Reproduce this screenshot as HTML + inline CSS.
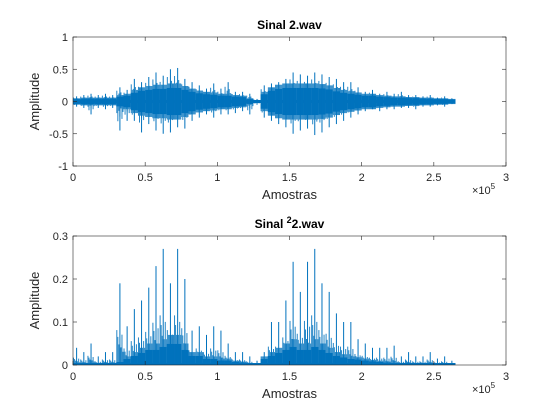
<!DOCTYPE html>
<html><head><meta charset="utf-8"><style>
html,body{margin:0;padding:0;background:#fff;}
svg{display:block;font-family:"Liberation Sans",Arial,sans-serif;}
</style></head><body>
<svg id="fig" width="560" height="420" viewBox="0 0 560 420" xmlns="http://www.w3.org/2000/svg"></svg>
<script>
const binStart = 0, binWidth = 0.05; // in 1e5 samples
const topPos = [0.08,0.1,0.12,0.1,0.12,0.1,0.22,0.18,0.35,0.3,0.38,0.45,0.4,0.5,0.52,0.35,0.3,0.25,0.2,0.28,0.2,0.3,0.15,0.15,0.12,0.04,0.25,0.28,0.3,0.35,0.45,0.42,0.4,0.45,0.42,0.38,0.35,0.3,0.3,0.22,0.15,0.18,0.12,0.15,0.12,0.15,0.1,0.1,0.08,0.1,0.06,0.08,0.05];
const topNeg = [0.08,0.1,0.2,0.1,0.12,0.1,0.45,0.3,0.3,0.48,0.35,0.45,0.5,0.48,0.4,0.42,0.3,0.25,0.2,0.25,0.2,0.2,0.18,0.15,0.2,0.05,0.25,0.3,0.35,0.4,0.5,0.45,0.42,0.52,0.48,0.4,0.35,0.3,0.25,0.2,0.15,0.12,0.15,0.12,0.12,0.1,0.1,0.12,0.08,0.08,0.06,0.08,0.04];
const topCore = [0.05,0.06,0.06,0.06,0.06,0.06,0.1,0.12,0.18,0.22,0.24,0.26,0.26,0.28,0.28,0.24,0.2,0.17,0.15,0.14,0.12,0.12,0.1,0.09,0.05,0.02,0.15,0.22,0.26,0.28,0.28,0.28,0.28,0.28,0.27,0.25,0.21,0.18,0.16,0.14,0.12,0.12,0.1,0.09,0.08,0.08,0.07,0.07,0.06,0.06,0.05,0.05,0.04];
const botSpike = [0.04,0.03,0.05,0.02,0.03,0.03,0.19,0.09,0.13,0.15,0.18,0.23,0.27,0.19,0.27,0.2,0.08,0.09,0.07,0.09,0.08,0.05,0.03,0.03,0.02,0.01,0.03,0.1,0.1,0.15,0.24,0.17,0.24,0.27,0.19,0.17,0.12,0.1,0.1,0.06,0.05,0.04,0.04,0.04,0.045,0.02,0.03,0.02,0.02,0.03,0.015,0.02,0.01];
const botCore = [0.005,0.005,0.005,0.005,0.005,0.005,0.01,0.02,0.03,0.04,0.05,0.05,0.06,0.07,0.07,0.05,0.03,0.03,0.02,0.02,0.015,0.015,0.01,0.008,0.004,0.002,0.02,0.03,0.04,0.05,0.06,0.05,0.05,0.06,0.05,0.04,0.03,0.025,0.02,0.018,0.015,0.012,0.01,0.008,0.006,0.005,0.005,0.004,0.003,0.003,0.002,0.002,0.002];
const xTicks = [0,0.5,1,1.5,2,2.5,3];
const xTickLabels = ["0","0.5","1","1.5","2","2.5","3"];
const topYTicks = [-1,-0.5,0,0.5,1];
const topYTickLabels = ["-1","-0.5","0","0.5","1"];
const botYTicks = [0,0.1,0.2,0.3];
const botYTickLabels = ["0","0.1","0.2","0.3"];
const spikeFracA = [0.95,0.45,0.7,0.35,0.8,0.55,0.4];
const spikeFracB = [0.5,0.85,0.4,0.65,0.3,0.75,0.45];

const NS="http://www.w3.org/2000/svg", svg=document.getElementById('fig');
function mk(tag,attrs,parent){const e=document.createElementNS(NS,tag);for(const k in attrs)e.setAttribute(k,attrs[k]);(parent||svg).appendChild(e);return e;}
const L=73,R=506,C='#0072BD',TC='#262626';
const xS=v=>L+(v/3)*(R-L);

function axes(top,bot,ymin,ymax,yt,ytl,title,name){
  const g=mk('g',{});
  
  
  const yS=v=>bot-(v-ymin)/(ymax-ymin)*(bot-top);
  const box=mk('rect',{x:L,y:top,width:R-L,height:bot-top,fill:'#fff',stroke:'none'},g);
  
  
  return {g,yS,top,bot,yt,ytl,title,name};
}
function finish(a,xlabel){
  const g=a.g,yS=a.yS;
  const fr=mk('rect',{x:L,y:a.top,width:R-L,height:a.bot-a.top,fill:'none',stroke:TC,'stroke-width':0.6},g);
  
  
  xTicks.forEach((t,i)=>{
    const x=xS(t);
    mk('line',{x1:x,x2:x,y1:a.bot,y2:a.bot-4,stroke:TC,'stroke-width':0.6},g);
    mk('line',{x1:x,x2:x,y1:a.top,y2:a.top+4,stroke:TC,'stroke-width':0.6},g);
    const tx=mk('text',{x:x,y:a.bot+15,'font-size':11,fill:TC,'text-anchor':'middle'},g);
    
    
    tx.textContent=xTickLabels[i];
  });
  a.yt.forEach((t,i)=>{
    const y=yS(t);
    mk('line',{x1:L,x2:L+4,y1:y,y2:y,stroke:TC,'stroke-width':0.6},g);
    mk('line',{x1:R,x2:R-4,y1:y,y2:y,stroke:TC,'stroke-width':0.6},g);
    const tx=mk('text',{x:L-5,y:y+4,'font-size':11,fill:TC,'text-anchor':'end'},g);
    
    
    tx.textContent=a.ytl[i];
  });
  const xl=mk('text',{x:(L+R)/2,y:a.bot+33,'font-size':13,fill:TC,'text-anchor':'middle'},g);
  
  
  xl.textContent=xlabel;
  const yl=mk('text',{x:0,y:0,'font-size':13,fill:TC,'text-anchor':'middle',transform:`translate(39,${(a.top+a.bot)/2}) rotate(-90)`},g);
  
  
  yl.textContent='Amplitude';
  const ex=mk('text',{x:R-34,y:a.bot+28,'font-size':11,fill:TC},g);
  
  
  ex.innerHTML='×10<tspan dy="-5" font-size="8">5</tspan>';
  const ti=mk('text',{x:(L+R)/2,y:a.top-8,'font-size':12,'font-weight':'bold',fill:'#000','text-anchor':'middle'},g);
  
  
  ti.innerHTML=a.title;
}

const n=topCore.length;
// top
const A=axes(37,166,-1,1,topYTicks,topYTickLabels,'Sinal 2.wav','top-axes');
const s1=mk('g',{stroke:C,fill:C,'stroke-width':1},A.g);


mk('line',{x1:xS(0),x2:xS(binStart+n*binWidth),y1:A.yS(0),y2:A.yS(0),'stroke-width':3},s1);
for(let i=0;i<n;i++){
  const x0=xS(binStart+i*binWidth),x1=xS(binStart+(i+1)*binWidth),w=x1-x0;
  const r=mk('rect',{x:x0,y:A.yS(topCore[i]*0.75),width:w,height:A.yS(-topCore[i]*0.75)-A.yS(topCore[i]*0.75),stroke:'none'},s1);
  
  
  const l=mk('line',{x1:x0+w/2,x2:x0+w/2,y1:A.yS(topPos[i]),y2:A.yS(-topNeg[i])},s1);
  
  
  for(let k=0;k<spikeFracA.length;k++){
    const xx=x0+(k+0.5)*w/spikeFracA.length;
    const up=Math.max(topCore[i],topPos[i]*spikeFracA[k]*0.8), dn=Math.max(topCore[i],topNeg[i]*spikeFracB[k]*0.8);
    const sp=mk('line',{x1:xx,x2:xx,y1:A.yS(up),y2:A.yS(-dn),opacity:0.85},s1);
    
    
  }
}
finish(A,'Amostras');

// bottom
const B=axes(236,365,0,0.3,botYTicks,botYTickLabels,'Sinal <tspan dy="-5" font-size="9">2</tspan><tspan dy="5">2.wav</tspan>','bottom-axes');
const s2=mk('g',{stroke:C,fill:C,'stroke-width':1},B.g);


mk('line',{x1:xS(0),x2:xS(binStart+n*binWidth),y1:B.yS(0)-1,y2:B.yS(0)-1,'stroke-width':2},s2);
for(let i=0;i<n;i++){
  const x0=xS(binStart+i*binWidth),x1=xS(binStart+(i+1)*binWidth),w=x1-x0;
  const r=mk('rect',{x:x0,y:B.yS(botCore[i]*0.7),width:w,height:B.yS(0)-B.yS(botCore[i]*0.7),stroke:'none'},s2);
  
  
  const l=mk('line',{x1:x0+w/2,x2:x0+w/2,y1:B.yS(botSpike[i]),y2:B.yS(0)},s2);
  
  
  for(let k=0;k<spikeFracA.length;k++){
    const xx=x0+(k+0.5)*w/spikeFracA.length;
    const h=Math.max(botCore[i],botSpike[i]*spikeFracA[k]*spikeFracB[k]*0.9);
    const sp=mk('line',{x1:xx,x2:xx,y1:B.yS(h),y2:B.yS(0),opacity:0.85},s2);
    
    
  }
}
finish(B,'Amostras');
</script>
</body></html>
